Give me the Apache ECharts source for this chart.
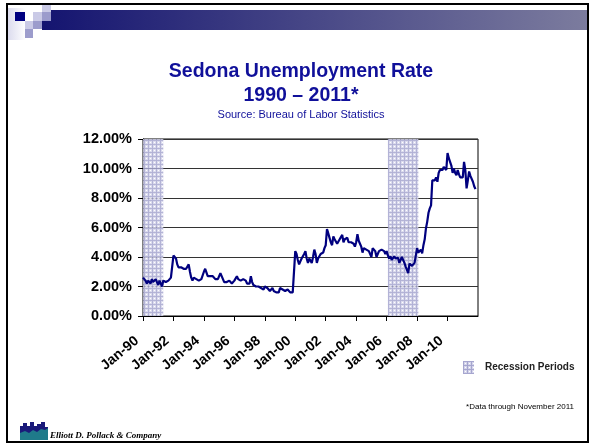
<!DOCTYPE html>
<html><head><meta charset="utf-8">
<script src="https://cdn.jsdelivr.net/npm/echarts@6/dist/echarts.min.js"></script>
<style>html,body{margin:0;padding:0;background:#fff}#c{width:592px;height:445px}</style>
</head><body><div id="c"></div>
<script>
// Monthly unemployment rate (%), Jan 1990 – Nov 2011
const rate1990s = [
  2.6,2.6,2.4,2.2,2.4,2.3,2.2,2.5,2.3,2.2,2.5,2.3,
  2.1,2.4,2.2,2.0,2.4,2.3,2.3,2.4,2.4,2.5,2.6,2.7,
  4.1,4.0,3.9,3.5,3.3,3.4,3.3,3.3,3.2,3.3,3.2,3.2,
  3.5,3.0,2.6,2.4,2.6,2.5,2.5,2.4,2.4,2.5,2.5,2.6,
  3.0,3.2,3.1,2.7,2.6,2.7,2.8,2.7,2.6,2.5,2.6,2.5,
  2.6,2.9,2.7,2.5,2.3,2.3,2.3,2.4,2.4,2.3,2.2,2.3,
  2.4,2.5,2.7,2.5,2.4,2.4,2.5,2.5,2.4,2.4,2.2,2.3,
  2.2,2.7,2.3,2.1,2.0,2.0,2.1,2.0,1.9,1.9,1.8,1.8,
  2.0,2.1,1.9,1.8,1.7,1.8,1.9,1.7,1.6,1.6,1.5,1.6,
  1.9,1.8,1.8,1.7,1.7,1.8,1.8,1.7,1.6,1.5,1.6,1.7
];
const rate2000s = [
  4.4,4.2,3.8,3.5,3.7,3.9,4.0,4.2,4.4,3.9,3.6,3.9,
  3.8,3.6,4.0,4.5,4.2,3.6,3.9,4.0,4.2,4.2,4.3,4.6,
  4.8,5.9,5.6,5.3,5.0,4.8,5.4,5.2,5.1,4.9,5.0,5.2,
  5.3,5.5,5.0,5.2,5.1,5.3,5.0,4.9,5.0,5.1,4.9,4.7,
  5.0,5.55,5.1,4.9,4.7,4.3,4.6,4.5,4.5,4.5,4.4,4.2,
  4.0,4.6,4.5,4.4,4.0,4.2,4.4,4.5,4.5,4.6,4.4,4.2,
  4.4,4.1,3.9,4.05,3.8,3.7,4.05,3.9,3.85,3.95,3.6,3.7,
  4.0,3.9,3.6,3.35,3.45,2.9,3.55,3.45,3.4,3.5,3.6,3.6,
  4.6,4.3,4.25,4.5,4.25,4.8,5.2,5.95,6.4,7.0,7.3,7.5,
  9.2,9.3,9.2,9.4,9.1,9.7,9.9,10.0,9.9,10.1,10.0,9.9
];
const rate2010s = [
  11.05,10.7,10.6,10.2,9.7,10.0,9.7,9.55,9.9,9.6,9.4,9.3,
  9.4,10.45,9.9,8.65,9.2,9.8,9.5,9.4,9.1,8.8,8.6
];
const rates = rate1990s.concat(rate2000s, rate2010s);

// Recession periods (start/end month labels, as shaded in the reference)
const recessionStarts = ['Jan-90', 'Feb-06'];
const recessionEnds   = ['May-91', 'Feb-08'];

// Month categories Jan-90 .. Jan-12
const monthNames = ['Jan','Feb','Mar','Apr','May','Jun','Jul','Aug','Sep','Oct','Nov','Dec'];
const months = [];
for (let y = 1990; y <= 2012; y++) {
  for (let m = 0; m < 12; m++) {
    if (y === 2012 && m > 0) break;
    months.push(monthNames[m] + '-' + String(y % 100).padStart(2, '0'));
  }
}
const yTicks = [0, 2, 4, 6, 8, 10, 12];

// pattern for recession shading
const pc = document.createElement('canvas');
pc.width = 4; pc.height = 4;
const pctx = pc.getContext('2d');
pctx.fillStyle = '#d4d4ea'; pctx.fillRect(0,0,4,4);
pctx.fillStyle = '#a6a6cf'; pctx.fillRect(0,0,4,1); pctx.fillRect(0,0,1,4);
pctx.fillStyle = '#ffffff'; pctx.fillRect(2,2,1,1);
const pattern = { image: pc, repeat: 'repeat' };

const chart = echarts.init(document.getElementById('c'), null, { renderer: 'canvas' });
const showLab = (idx) => idx % 24 === 0 && idx < 264;

chart.setOption({
  animation: false,
  backgroundColor: '#ffffff',
  title: [
    { text: 'Sedona Unemployment Rate', left: 296, top: 57, textAlign: 'center',
      textStyle: { fontFamily: 'Liberation Sans, Arial', fontWeight: 'bold', fontSize: 19.5, color: '#10109a' } },
    { text: '1990 – 2011*', left: 296, top: 81, textAlign: 'center',
      textStyle: { fontFamily: 'Liberation Sans, Arial', fontWeight: 'bold', fontSize: 19.5, color: '#10109a' } },
    { text: 'Source: Bureau of Labor Statistics', left: 296, top: 104, textAlign: 'center',
      textStyle: { fontFamily: 'Liberation Sans, Arial', fontWeight: 'normal', fontSize: 11, color: '#10109a' } }
  ],
  legend: {
    data: ['Recession Periods'], left: 458, top: 356, itemWidth: 11, itemHeight: 13, itemGap: 4,
    icon: 'rect',
    textStyle: { fontFamily: 'Liberation Sans, Arial', fontWeight: 'bold', fontSize: 10, color: '#222', padding: [0, 0, 0, 6] }
  },
  grid: { left: 143, right: 114, top: 139, bottom: 129, show: true, borderColor: '#000', borderWidth: 1 },
  xAxis: {
    type: 'category', data: months, boundaryGap: false,
    axisLine: { lineStyle: { color: '#000', width: 1 } },
    axisTick: { interval: showLab, length: 5, lineStyle: { color: '#000' } },
    axisLabel: { interval: showLab, rotate: 40, margin: 18, padding: [0, 8, 0, 0],
      fontFamily: 'Liberation Sans, Arial', fontWeight: 'bold', fontSize: 14, color: '#000' },
    splitLine: { show: false }
  },
  yAxis: {
    type: 'value', min: 0, max: 12, interval: 2,
    axisLine: { show: true, lineStyle: { color: '#000' } },
    axisTick: { show: true, length: 5, lineStyle: { color: '#000' } },
    axisLabel: { margin: 11, fontFamily: 'Liberation Sans, Arial', fontWeight: 'bold', fontSize: 14.5, color: '#000',
      formatter: (v) => yTicks.includes(v) ? v.toFixed(2) + '%' : '' },
    splitLine: { show: true, lineStyle: { color: '#333', width: 1 } }
  },
  series: [
    {
      name: 'Recession Periods', type: 'line', data: [], color: pattern,
      itemStyle: { color: pattern }
    },
    {
      name: 'Unemployment', type: 'line', data: rates, showSymbol: false, symbol: 'none',
      lineStyle: { color: '#00007f', width: 2.2 }, itemStyle: { color: '#00007f' }, z: 5,
      markArea: {
        silent: true,
        itemStyle: { color: pattern, opacity: 0.85 },
        data: recessionStarts.map((s, i) => [{ xAxis: s }, { xAxis: recessionEnds[i] }])
      }
    }
  ],
  graphic: [
    { type: 'rect', shape: { x: 7, y: 4, width: 581, height: 438 }, style: { fill: 'none', stroke: '#000', lineWidth: 2 }, z: 100 },
    { type: 'rect', shape: { x: 8, y: 8, width: 18, height: 32 },
      style: { fill: new echarts.graphic.LinearGradient(0, 0, 1, 0, [{ offset: 0, color: '#dcdcee' }, { offset: 1, color: '#ffffff' }]) } },
    { type: 'rect', shape: { x: 42, y: 10, width: 546, height: 20 },
      style: { fill: new echarts.graphic.LinearGradient(0, 0, 1, 0, [{ offset: 0, color: '#141470' }, { offset: 1, color: '#7c7c9e' }]) } },
    { type: 'rect', shape: { x: 15, y: 12, width: 10, height: 9 }, style: { fill: '#000080' } },
    { type: 'rect', shape: { x: 33, y: 12, width: 9, height: 9 }, style: { fill: '#cacae6' } },
    { type: 'rect', shape: { x: 42, y: 5, width: 9, height: 7 }, style: { fill: '#cacae6' } },
    { type: 'rect', shape: { x: 42, y: 12, width: 9, height: 9 }, style: { fill: '#9c9ccc' } },
    { type: 'rect', shape: { x: 25, y: 21, width: 8, height: 8 }, style: { fill: '#cacae6' } },
    { type: 'rect', shape: { x: 33, y: 21, width: 9, height: 8 }, style: { fill: '#9c9ccc' } },
    { type: 'rect', shape: { x: 25, y: 29, width: 8, height: 9 }, style: { fill: '#9c9ccc' } },
    { type: 'text', style: { text: '*Data through November 2011', x: 574, y: 407, align: 'right', verticalAlign: 'middle',
      font: '8px "Liberation Sans", Arial', fill: '#000' } },
    { type: 'text', style: { text: 'Elliott D. Pollack & Company', x: 50, y: 436, align: 'left', verticalAlign: 'middle',
      font: 'italic bold 9px "Liberation Serif", "Times New Roman"', fill: '#000' } },
    { type: 'polygon', shape: { points: [[20,440],[20,426],[23,426],[23,423],[27,423],[27,426],[30,426],[30,422],[34,422],[34,426],[37,426],[37,424],[41,424],[41,422],[45,422],[45,427],[48,427],[48,440]] },
      style: { fill: '#1a1a7a' } },
    { type: 'polygon', shape: { points: [[20,440],[20,433],[25,431],[29,433],[33,430],[37,432],[41,429],[45,430],[48,428],[48,440]] },
      style: { fill: '#1f7a8a' } }
  ]
});
</script></body></html>
